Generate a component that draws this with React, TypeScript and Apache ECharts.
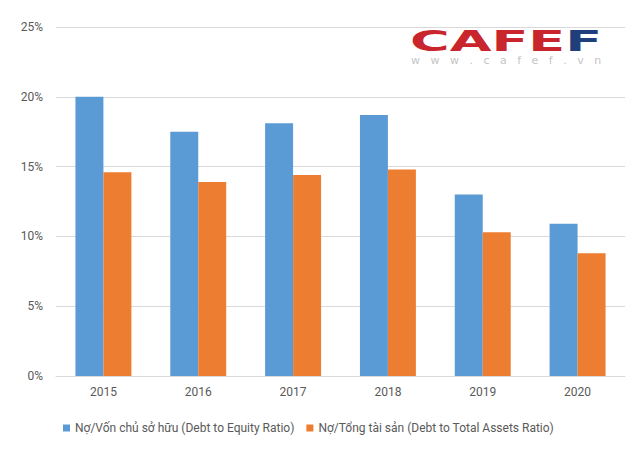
import React, { useEffect, useRef } from "react";
import * as echarts from "echarts";

const years = ["2015", "2016", "2017", "2018", "2019", "2020"];
const debtToEquity = [20.0, 17.5, 18.1, 18.7, 13.0, 10.9];
const debtToAssets = [14.6, 13.9, 14.4, 14.8, 10.3, 8.8];
const seriesNames = [
  "Nợ/Vốn chủ sở hữu (Debt to Equity Ratio)",
  "Nợ/Tổng tài sản (Debt to Total Assets Ratio)",
];

export default function App() {
  const ref = useRef<HTMLDivElement>(null);
  useEffect(() => {
    if (!ref.current) return;
    const chart = echarts.init(ref.current, null, { renderer: "svg" });
    const font = "Roboto";
    chart.setOption({
      animation: false,
      backgroundColor: "#ffffff",
      grid: { left: 56, right: 15, top: 27, bottom: 80, containLabel: false },
      legend: {
        left: 58,
        top: 417,
        itemWidth: 7,
        itemHeight: 7,
        itemGap: 12,
        icon: "rect",
        textStyle: { color: "#595959", fontSize: 12, fontFamily: font },
        data: seriesNames,
      },
      xAxis: {
        type: "category",
        data: years,
        axisLine: { lineStyle: { color: "#d9d9d9" } },
        axisTick: { show: false },
        axisLabel: { color: "#595959", fontSize: 12, fontFamily: font, margin: 10 },
      },
      yAxis: {
        type: "value",
        min: 0,
        max: 25,
        interval: 5,
        axisLine: { show: false },
        axisTick: { show: false },
        splitLine: { lineStyle: { color: "#d9d9d9" } },
        axisLabel: {
          color: "#595959",
          fontSize: 12,
          fontFamily: font,
          margin: 13,
          formatter: (v: number) => v + "%",
        },
      },
      series: [
        {
          name: seriesNames[0],
          type: "bar",
          data: debtToEquity,
          barGap: "0%",
          barCategoryGap: "41%",
          itemStyle: { color: "#5b9bd5" },
        },
        {
          name: seriesNames[1],
          type: "bar",
          data: debtToAssets,
          barGap: "0%",
          barCategoryGap: "41%",
          itemStyle: { color: "#ed7d31" },
        },
      ],
      graphic: [
        {
          type: "text",
          x: 410,
          y: 29,
          scaleX: 1.93,
          style: {
            text: "{r|CAFE}{b|F}",
            rich: {
              r: { fill: "#c9252d", fontSize: 28, lineHeight: 24, fontWeight: 900, fontFamily: "DejaVu Sans" },
              b: { fill: "#1e3f7b", fontSize: 28, lineHeight: 24, fontWeight: 900, fontFamily: "DejaVu Sans" },
            },
          },
        },
        {
          type: "text",
          x: 411,
          y: 55,
          style: {
            text: "w   w   w   .   c   a   f   e   f   .   v   n",
            fill: "#c4c4c4",
            fontSize: 11,
            lineHeight: 11,
            fontFamily: "DejaVu Sans",
          },
        },
      ],
    });
    return () => chart.dispose();
  }, []);
  return <div ref={ref} style={{ width: 640, height: 456, position: "absolute", left: 0, top: 0 }} />;
}
